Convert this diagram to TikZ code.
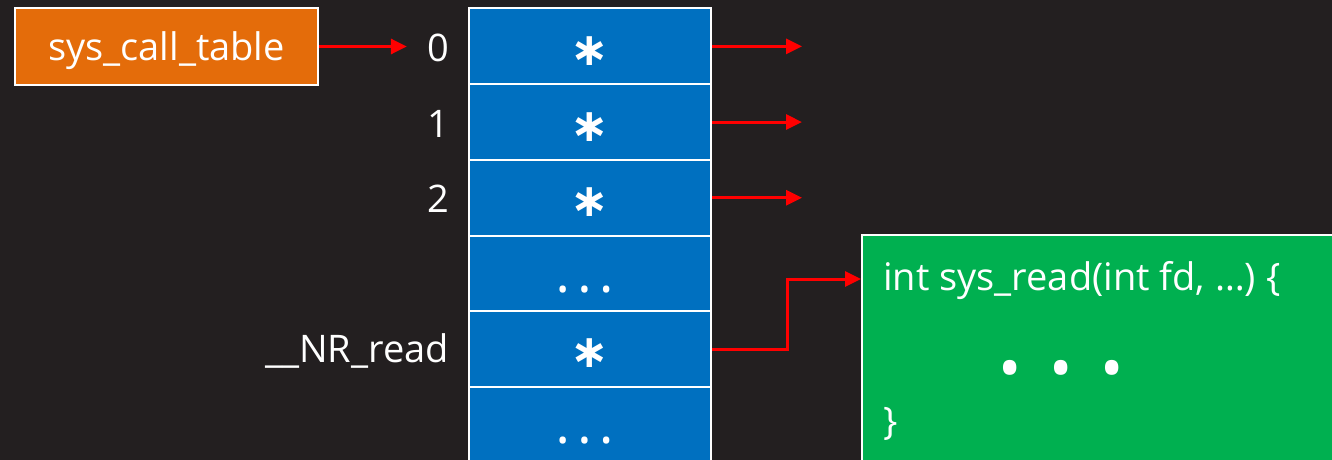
\documentclass[tikz,border=0pt]{standalone}
\usepackage{fontspec}
\setmainfont{Open Sans}
\newfontfamily\starfont{DejaVu Sans}
\usetikzlibrary{arrows.meta}
\definecolor{bgdark}{HTML}{231F20}
\definecolor{tblorange}{HTML}{E46C0A}
\definecolor{tblblue}{HTML}{0070C0}
\definecolor{codegreen}{HTML}{00B050}
\definecolor{ptrred}{HTML}{FF0000}
\tikzset{
  basetext/.style={text=white, font=\fontsize{38}{40}\selectfont, inner sep=0pt},
  cell/.style={draw=white, line width=2pt, fill=tblblue, minimum width=242pt,
               minimum height=75.7pt, inner sep=0pt},
  star/.style={text=white, font=\starfont\bfseries\fontsize{46}{46}\selectfont,
               inner sep=0pt, anchor=base},
  celldots/.style={text=white, font=\fontsize{30}{30}\selectfont, inner sep=0pt, anchor=base},
  idx/.style={basetext, anchor=base east},
  ptr/.style={draw=ptrred, line width=3pt, -{Triangle[length=16pt,width=15pt]}},
}
\begin{document}
\begin{tikzpicture}[x=1pt,y=-1pt]
\fill[bgdark] (0,0) rectangle (1332,460);
\useasboundingbox (0,0) rectangle (1332,460);

% table head
\node[basetext, draw=white, line width=2pt, fill=tblorange, minimum width=303pt,
      minimum height=76pt, text depth=0.1em] (head) at (166.5,46.5) {sys\_call\_table};

% table cells
\node[cell] (c0) at (590,46.35) {};
\node[cell] (c1) at (590,122.05) {};
\node[cell] (c2) at (590,197.75) {};
\node[cell] (c3) at (590,273.45) {};
\node[cell] (c4) at (590,349.15) {};
\node[cell] (c5) at (590,424.85) {};

% cell contents
\node[star] (s0) at (590,65) {∗};
\node[star] (s1) at (590,141) {∗};
\node[star] (s2) at (590,216) {∗};
\node[celldots] (d3) at (584.5,300) {•\hspace{10.5pt}•\hspace{10.5pt}•};
\node[star] (s4) at (590,367) {∗};
\node[celldots] (d5) at (584.5,451) {•\hspace{10.5pt}•\hspace{10.5pt}•};

% indices
\node[idx] (i0) at (449,61) {0};
\node[idx] (i1) at (449,137) {1};
\node[idx] (i2) at (449,212) {2};
\node[idx] (inr) at (449,362) {\_\_NR\_read};

% function body
\node[draw=white, line width=2pt, fill=codegreen, minimum width=483pt,
      minimum height=240pt, inner sep=0pt] (code) at (1103.5,355) {};
\node[basetext, anchor=base west] (sig) at (883,290) {int sys\_read(int fd, …) \{};
\node[text=white, font=\fontsize{62}{62}\selectfont, inner sep=0pt, anchor=base] (body)
      at (1061,390) {•\hspace{28pt}•\hspace{28pt}•};
\node[basetext, anchor=base west] (close) at (883,434) {\}};

% pointers
\coordinate (e0) at (802,46.35);
\coordinate (e1) at (802,122.05);
\coordinate (e2) at (802,197.75);
\coordinate (turn) at (787,279);
\draw[ptr, shorten >=20pt] (head.east) -- (i0.west |- head.east);
\draw[ptr] (c0.east) -- (e0);
\draw[ptr] (c1.east) -- (e1);
\draw[ptr] (c2.east) -- (e2);
\draw[ptr] (c4.east) -| (turn) -- (turn -| code.west);
\end{tikzpicture}
\end{document}
